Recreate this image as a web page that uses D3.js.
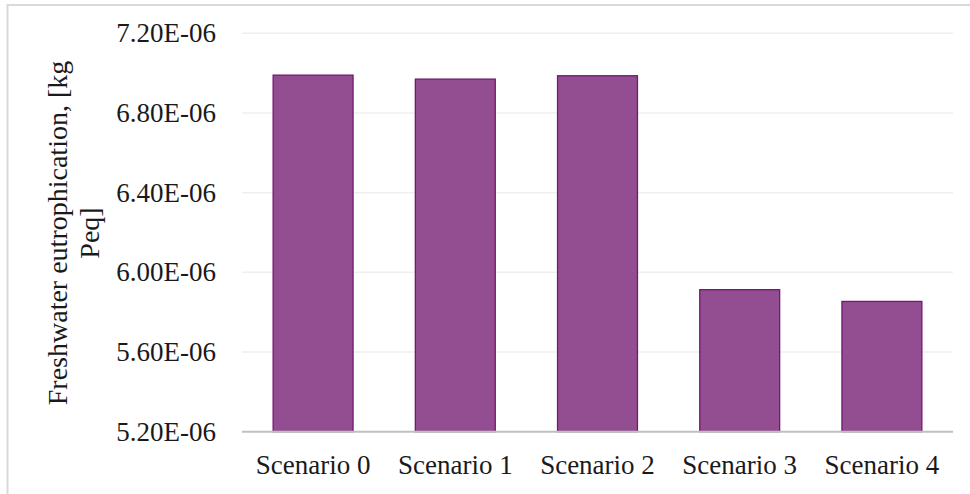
<!DOCTYPE html>
<html>
<head>
<meta charset="utf-8">
<script src="https://cdn.jsdelivr.net/npm/d3@7"></script>
<style>
  html, body { margin: 0; padding: 0; background: #fff; }
  svg { display: block; }
</style>
</head>
<body>
<svg id="chart" width="970" height="494"></svg>
<script>
// Freshwater eutrophication per scenario, kg P eq
const categories = ["Scenario 0", "Scenario 1", "Scenario 2", "Scenario 3", "Scenario 4"];
const values = [6.99e-6, 6.97e-6, 6.987e-6, 5.913e-6, 5.854e-6];
const yTicks = [5.2e-6, 5.6e-6, 6.0e-6, 6.4e-6, 6.8e-6, 7.2e-6];
const yTitleLines = ["Freshwater eutrophication, [kg", "Peq]"];

const FONT = "'Liberation Serif', 'Times New Roman', Tinos, serif";
const INK = "#1a1a1a";

const svg = d3.select("#chart");
const W = 970, H = 494;
const plot = { left: 242, right: 953, top: 33.3, bottom: 431.7 };

// chart frame (top and left edges)
svg.append("line").attr("x1", 7.5).attr("x2", W).attr("y1", 5).attr("y2", 5)
  .attr("stroke", "#d9d9d9").attr("stroke-width", 2);
svg.append("line").attr("x1", 7.5).attr("x2", 7.5).attr("y1", 4).attr("y2", H)
  .attr("stroke", "#d9d9d9").attr("stroke-width", 2);

const x = d3.scaleBand().domain(categories)
  .range([plot.left, plot.right]).paddingInner(0.438).paddingOuter(0.219);
const y = d3.scaleLinear().domain([5.2e-6, 7.2e-6]).range([plot.bottom, plot.top]);

const fmt = v => {
  const exp = Math.floor(Math.log10(v) + 1e-9);
  const mant = v / Math.pow(10, exp);
  const e = Math.abs(exp);
  return mant.toFixed(2) + "E" + (exp < 0 ? "-" : "+") + (e < 10 ? "0" : "") + e;
};

// gridlines
svg.append("g").selectAll("line").data(yTicks.slice(1)).join("line")
  .attr("x1", plot.left).attr("x2", plot.right)
  .attr("y1", d => y(d)).attr("y2", d => y(d))
  .attr("stroke", "#efefef").attr("stroke-width", 1.5);

// y axis labels
const yAxis = d3.axisLeft(y).tickValues(yTicks).tickFormat(fmt).tickSize(0).tickPadding(26);
const gy = svg.append("g").attr("transform", `translate(${plot.left},0)`).call(yAxis)
  .attr("font-family", null).attr("font-size", null);
gy.select(".domain").remove();
gy.selectAll("text").style("font-family", FONT).style("font-size", "27px").attr("fill", INK);

// bars
svg.append("g").selectAll("rect").data(values).join("rect")
  .attr("x", (d, i) => x(categories[i]))
  .attr("width", x.bandwidth())
  .attr("y", d => y(d))
  .attr("height", d => y(5.2e-6) - y(d))
  .attr("fill", "#934d91")
  .attr("stroke", "#751872")
  .attr("stroke-width", 1.3);

// x axis
const xAxis = d3.axisBottom(x).tickSize(0).tickPadding(23);
const gx = svg.append("g").attr("transform", `translate(0,${plot.bottom})`).call(xAxis)
  .attr("font-family", null).attr("font-size", null);
gx.select(".domain").attr("stroke", "#c0c0c0").attr("stroke-width", 2)
  .attr("d", `M${plot.left},0H${plot.right}`);
gx.selectAll("text").style("font-family", FONT).style("font-size", "27px").attr("fill", INK);

// y axis title, two centred lines
const titleY = 233;
const lineX = [67, 99];
yTitleLines.forEach((t, i) => {
  svg.append("text")
    .attr("transform", `translate(${lineX[i]},${titleY}) rotate(-90)`)
    .attr("text-anchor", "middle")
    .style("font-family", FONT)
    .style("font-size", "28px")
    .attr("fill", INK)
    .text(t);
});
</script>
</body>
</html>
